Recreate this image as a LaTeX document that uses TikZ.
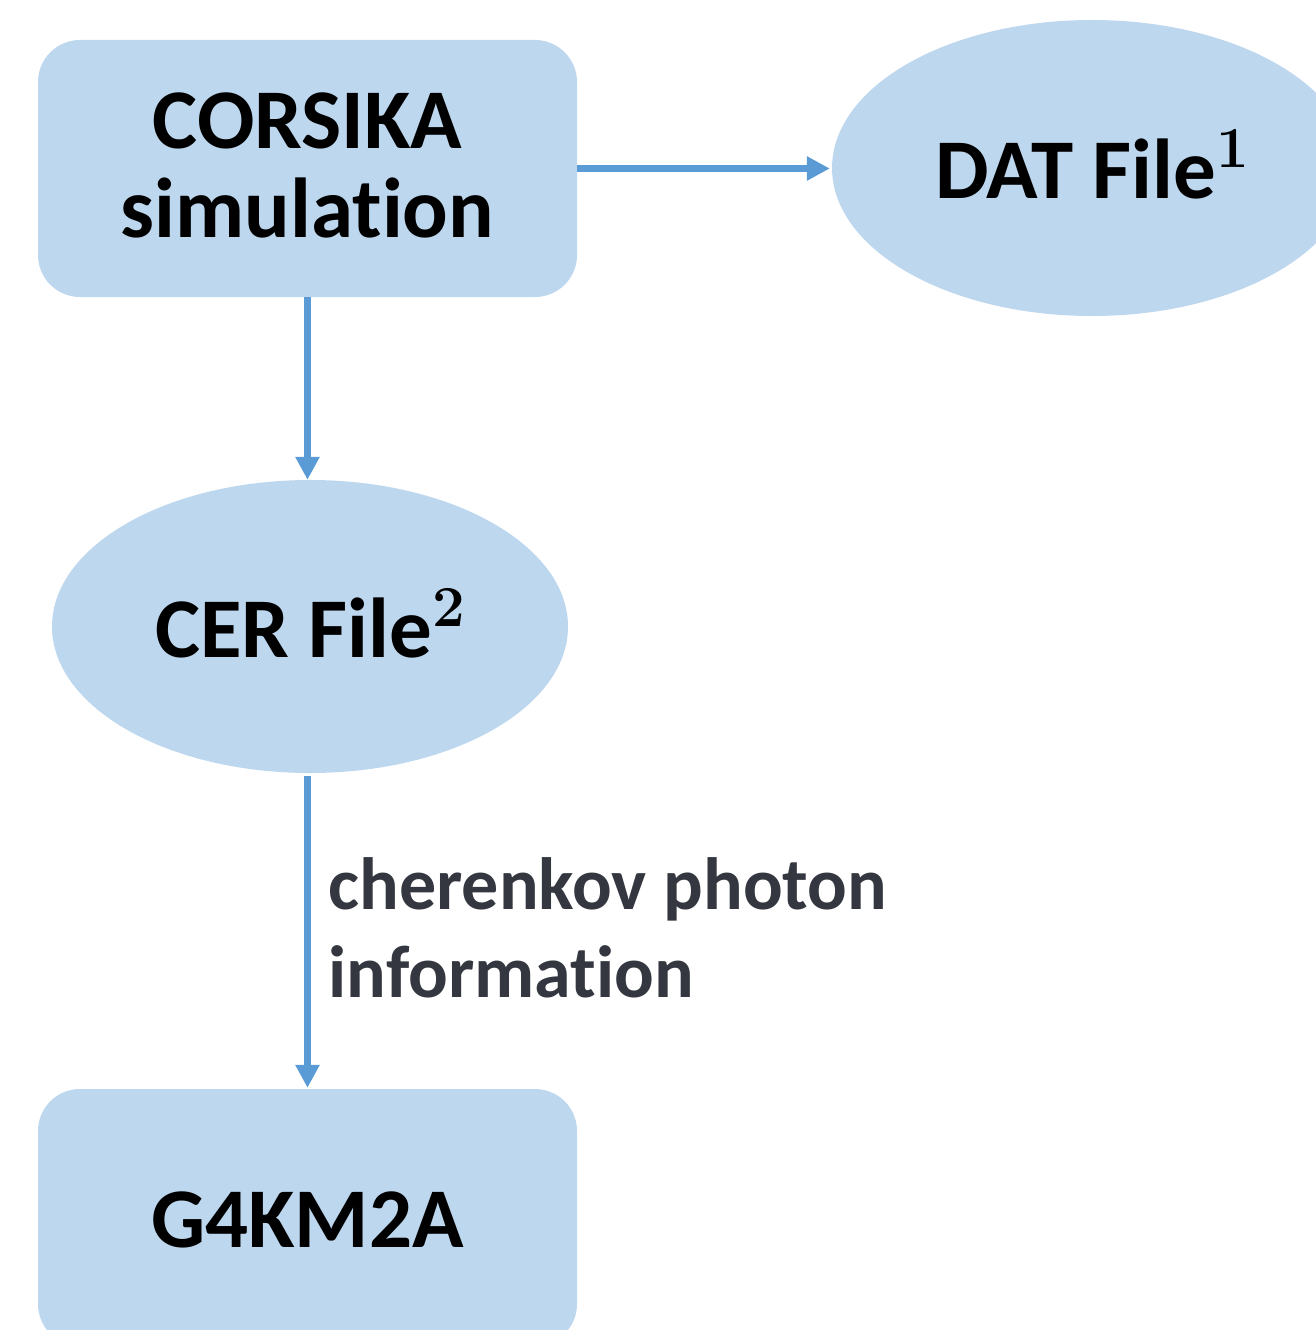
\documentclass[tikz,border=0pt]{standalone}
\usepackage[no-math]{fontspec}
\setmainfont{Carlito}[Ligatures=NoCommon]
\usetikzlibrary{arrows.meta,shapes.geometric}
\definecolor{boxfill}{HTML}{BDD7EE}
\definecolor{flow}{HTML}{5B9BD5}
\definecolor{note}{HTML}{343740}
% serif footnote marker set beside the file names
\newcommand{\filemark}[1]{\raisebox{31pt}{\fontfamily{lmr}\fontseries{bx}\fontsize{58}{58}\selectfont #1}}
\begin{document}
\begin{tikzpicture}[x=1pt,y=-1pt,
  stage/.style={rectangle, rounded corners=42pt, fill=boxfill,
    minimum width=539pt, minimum height=257pt, inner sep=0pt,
    font=\fontsize{85}{89}\selectfont\bfseries, align=center},
  datafile/.style={ellipse, fill=boxfill, inner sep=0pt,
    font=\fontsize{85}{89}\selectfont\bfseries},
  flowarrow/.style={draw=flow, line width=7pt,
    -{Triangle[length=23pt,width=23pt]}},
  notetext/.style={font=\fontsize{74}{88}\selectfont\bfseries,
    text=note, align=left}
]
\useasboundingbox (0,0) rectangle (1315,1330);

% processing stages and output files
\node[stage, text height=137pt, text depth=0pt] (corsika) at (307.5,168.5)
  {CORSIKA\\simulation};
\node[datafile, minimum width=520pt, minimum height=296pt,
  text height=60pt, text depth=0pt] (dat) at (1092,168) {DAT File\filemark{1}};
\node[datafile, minimum width=516pt, minimum height=293pt,
  text height=62pt, text depth=0pt] (cer) at (310,626.5) {CER File\filemark{2}};
\node[stage, text height=59pt, text depth=0pt] (g4) at (307.5,1217.5)
  {G4KM2A};

% data flow
\draw[flowarrow, shorten >=2pt] (corsika.east) -- (corsika.east -| dat.west);
\draw[flowarrow] (corsika.south) -- (corsika.south |- cer.north);
\draw[flowarrow, shorten <=3pt, shorten >=1pt]
  (corsika.south |- cer.south) -- (corsika.south |- g4.north);

\node[notetext, anchor=base west] (photoninfo) at (325,997)
  {cherenkov photon\\information};
\end{tikzpicture}
\end{document}
